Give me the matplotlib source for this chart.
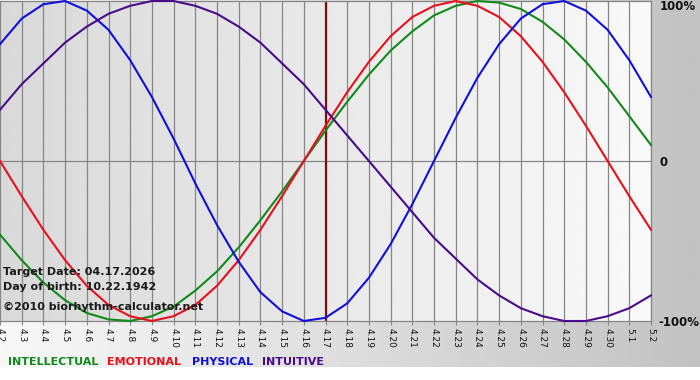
import numpy as np
import matplotlib
matplotlib.use("Agg")
import matplotlib.pyplot as plt
import matplotlib.transforms as mtransforms

# ---- data (percent values, one per day) ----
dates = ["4.2", "4.3", "4.4", "4.5", "4.6", "4.7", "4.8", "4.9", "4.10", "4.11",
         "4.12", "4.13", "4.14", "4.15", "4.16", "4.17", "4.18", "4.19", "4.20",
         "4.21", "4.22", "4.23", "4.24", "4.25", "4.26", "4.27", "4.28", "4.29",
         "4.30", "5.1", "5.2"]
target_date = "4.17"

intellectual = [-46, -62, -76, -87, -95, -99, -100, -97, -91, -81, -69, -54, -37, -19,
                0, 19, 37, 54, 69, 81, 91, 97, 100, 99, 95, 87, 76, 62, 46, 28, 10]
emotional = [0, -22, -43, -62, -78, -90, -97, -100, -97, -90, -78, -62, -43, -22,
             0, 22, 43, 62, 78, 90, 97, 100, 97, 90, 78, 62, 43, 22, 0, -22, -43]
physical = [73, 89, 98, 100, 94, 82, 63, 40, 14, -14, -40, -63, -82, -94, -100, -98,
            -89, -73, -52, -27, 0, 27, 52, 73, 89, 98, 100, 94, 82, 63, 40]
intuitive = [32, 48, 61, 74, 84, 92, 97, 100, 100, 97, 92, 84, 74, 61, 48, 32, 16, 0,
             -16, -32, -48, -61, -74, -84, -92, -97, -100, -100, -97, -92, -84]

series_names = ["INTELLECTUAL", "EMOTIONAL", "PHYSICAL", "INTUITIVE"]
series_colors = ["#118a1a", "#e8101c", "#1010d8", "#4b0a88"]
info_lines = ["Target Date: 04.17.2026", "Day of birth: 10.22.1942",
              "\u00a92010 biorhythm-calculator.net"]

W, H = 700, 380
fig = plt.figure(figsize=(W / 100, H / 100), dpi=100)

# figure background: horizontal gradient light -> gray, white strip at bottom
bg = fig.add_axes([0, 0, 1, 1], zorder=-10)
grad = np.linspace(0.97, 0.76, 256)
img = np.tile(grad, (2, 1))
bg.imshow(img, cmap="gray", vmin=0, vmax=1, aspect="auto",
          extent=[0, W, H - 367, H], origin="lower")
bg.set_xlim(0, W)
bg.set_ylim(0, H)
bg.axis("off")

# plot area
left_px, right_px, top_px, bot_px = 0, 651, 1, 321
ax = fig.add_axes([left_px / W, 1 - bot_px / H, (right_px - left_px) / W, (bot_px - top_px) / H])
n = len(dates)
x = np.arange(n)
ax.set_xlim(0, n - 1)
ax.set_ylim(-100, 100)

pgrad = np.tile(np.linspace(0.85, 0.975, 256), (2, 1))
ax.imshow(pgrad, cmap="gray", vmin=0, vmax=1, aspect="auto",
          extent=[0, n - 1, -100, 100], origin="lower", zorder=0)

for xi in x:
    ax.axvline(xi, color="#868686", lw=0.9, zorder=1)
ax.axhline(0, color="#868686", lw=0.9, zorder=1)

ax.axvline(dates.index(target_date), color="#7a1010", lw=1.6, zorder=2)

for vals, col in zip([intellectual, emotional, physical, intuitive], series_colors):
    ax.plot(x, vals, color=col, lw=1.5, zorder=3, clip_on=False, solid_joinstyle="round")

for s in ["left", "right", "top", "bottom"]:
    ax.spines[s].set_color("#868686")
    ax.spines[s].set_linewidth(0.9)
ax.spines["left"].set_visible(False)

ax.set_xticks(x)
ax.set_xticklabels(dates, rotation=-90, fontsize=6.5, family="DejaVu Sans", color="#111111")
ax.tick_params(axis="x", length=3, color="#868686", pad=2)
ax.set_yticks([])

# right-side percent labels
tr = mtransforms.blended_transform_factory(ax.transAxes, ax.transData)
ax.text(1, 100, "100%", transform=mtransforms.offset_copy(tr, fig=fig, x=9, y=-6, units="dots"),
        ha="left", va="center", fontsize=8.5, fontweight="bold", color="#111111", clip_on=False)
ax.text(1, 0, "0", transform=mtransforms.offset_copy(tr, fig=fig, x=9, y=-1, units="dots"),
        ha="left", va="center", fontsize=8.5, fontweight="bold", color="#111111", clip_on=False)
ax.text(1, -100, "-100%", transform=mtransforms.offset_copy(tr, fig=fig, x=7, y=-1, units="dots"),
        ha="left", va="center", fontsize=8.5, fontweight="bold", color="#111111", clip_on=False)

# info text
for t, ypx in zip(info_lines, [272, 287, 307]):
    fig.text(3 / W, 1 - ypx / H, t, ha="left", va="center", fontsize=8,
             fontweight="bold", color="#1a1a1a", zorder=5)

# legend
xs = [8, 107, 192, 262]
for name, col, xp in zip(series_names, series_colors, xs):
    fig.text(xp / W, 1 - 362 / H, name, ha="left", va="center", fontsize=8,
             fontweight="bold", color=col)

fig.savefig("out.png", dpi=100)
